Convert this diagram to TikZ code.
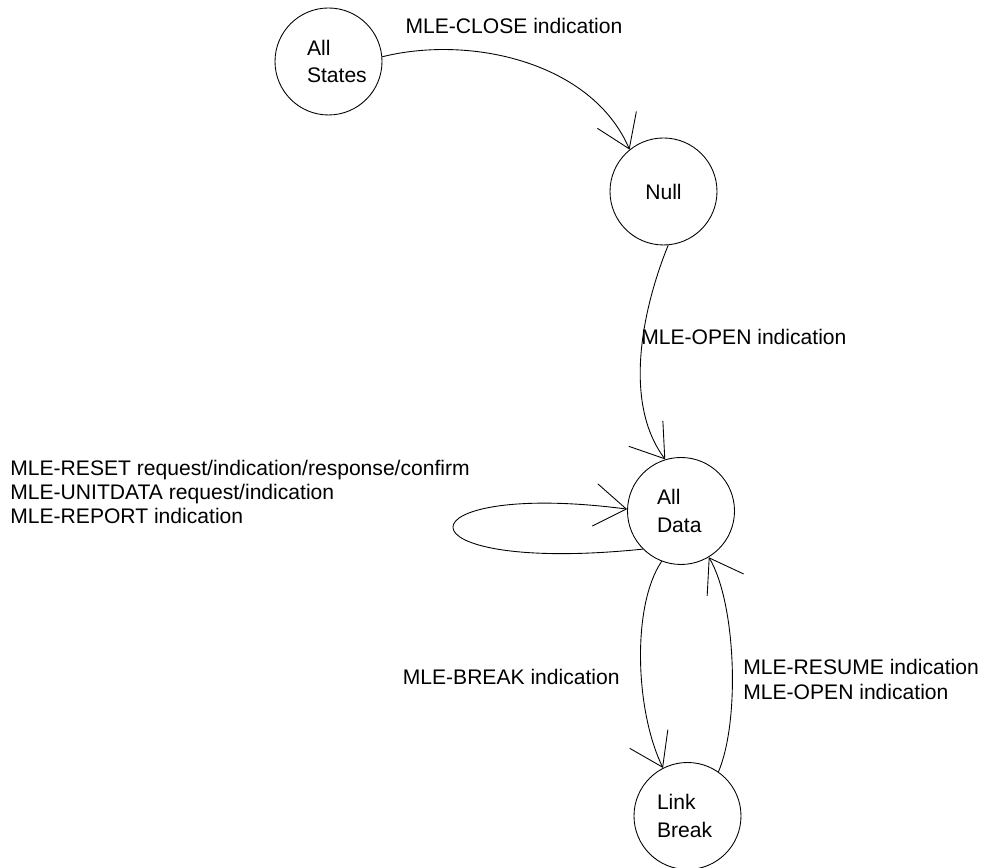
\documentclass[tikz,border=0pt]{standalone}
\usepackage{fontspec}
\setmainfont{Liberation Sans}
\usepackage{tikz}
\usetikzlibrary{arrows.meta, positioning}
\usepackage{xcolor}

\begin{document}
\begin{tikzpicture}[
    state/.style={draw, shape=circle, minimum size=2.14cm, inner sep=0pt,
      align=left, font=\fontsize{12}{15.5}\selectfont},
    lbl/.style={inner sep=0pt, align=left, font=\fontsize{12}{13.8}\selectfont},
    trans/.style={line width=0.5pt, -{Straight Barb[length=0.63cm, width=0.85cm]}}
  ]
  \useasboundingbox (0,0) rectangle (19.68,17.36);

  % states
  \node[state, line width=0.5pt, text width=0.86cm] (AS) at (6.57,16.13) {All\\States};
  \node[state, line width=0.5pt, align=center] (NU) at (13.27,13.53) {Null};
  \node[state, line width=0.5pt, text width=0.96cm] (AD) at (13.62,7.14) {All\\Data};
  \node[state, line width=0.5pt, text width=1.22cm] (LB) at (13.75,1.04) {Link\\Break};

  % transitions
  \draw[trans] (AS.5) .. controls +(1.76,0.44) and +(-0.75,1.75) .. (NU.129);
  \draw[trans] (NU.275) .. controls +(-0.45,-1.1) and +(-0.9,1.2) .. (AD.107);
  \draw[trans] (AD.225) .. controls +(-5.1,-0.52) and +(-4.6,0.6) .. (AD.178);
  \draw[trans] (AD.249) .. controls +(-0.6,-0.88) and +(-0.56,1.14) .. (LB.117);
  \draw[trans] (LB.55) .. controls +(0.44,1.04) and +(0.54,-0.9) .. (AD.301);

  % labels
  \node[lbl] (lclose) at (10.28,16.85) {MLE-CLOSE indication};
  \node[lbl, anchor=west] (lopen) at (12.82,10.62) {MLE-OPEN indication};
  \node[lbl, anchor=west] (lloop) at (0.2,7.52)
    {MLE-RESET request/indication/response/confirm\\MLE-UNITDATA request/indication\\MLE-REPORT indication};
  \node[lbl, anchor=east] (lbreak) at (12.4,3.82) {MLE-BREAK indication};
  \node[lbl, anchor=west] (lresume) at (14.86,3.77)
    {MLE-RESUME indication\\MLE-OPEN indication};
\end{tikzpicture}
\end{document}
